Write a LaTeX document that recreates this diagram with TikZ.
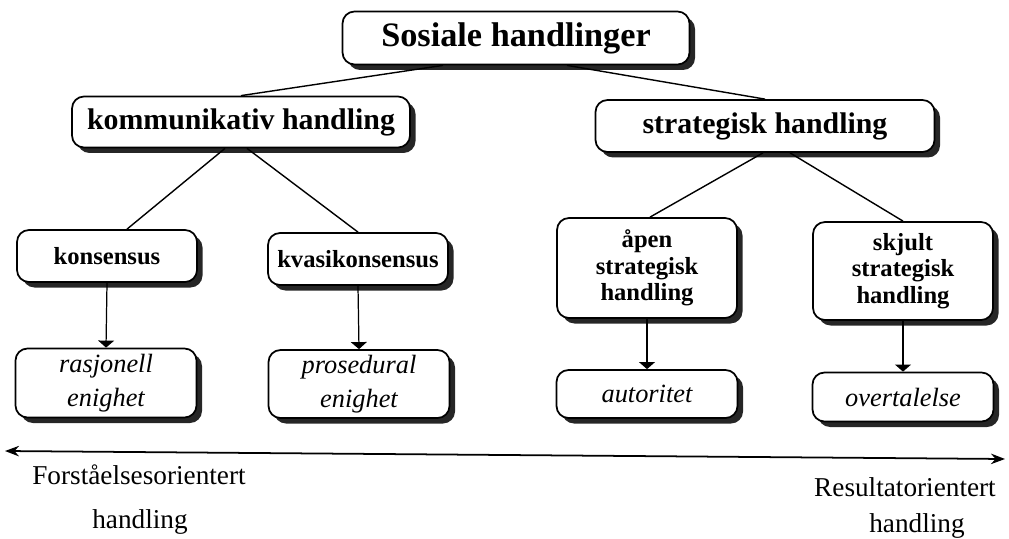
\documentclass[tikz,border=0pt]{standalone}
\usepackage{fontspec}
\setmainfont{Liberation Serif}
\usetikzlibrary{scopes,shadows,arrows.meta}

\begin{document}
\begin{tikzpicture}[
    box/.style={draw=black,fill=white,rounded corners=0.24cm,line width=1pt,align=center,inner sep=0pt,
        drop shadow={shadow xshift=0.11cm,shadow yshift=-0.11cm,fill=black!85,opacity=1}},
    hd/.style={box,font=\bfseries\fontsize{19.5}{22}\selectfont},
    sub/.style={box,font=\bfseries\fontsize{17}{20}\selectfont},
    leaf/.style={box,font=\bfseries\fontsize{14}{15}\selectfont,minimum width=3.6cm},
    res/.style={box,font=\itshape\fontsize{15}{19}\selectfont,minimum width=3.62cm},
    lbl/.style={font=\fontsize{15.5}{18}\selectfont},
    arr/.style={-{Triangle[width=9pt,length=4pt]},line width=0.7pt},
]
    \useasboundingbox (0,0) rectangle (20.18,10.76);
    \node[hd,minimum width=6.94cm,minimum height=1.06cm] (sos) at (10.32,10.00) {Sosiale handlinger};
    \node[sub,minimum width=6.76cm,minimum height=1.02cm] (komm) at (4.82,8.32) {kommunikativ handling};
    \node[sub,minimum width=6.78cm,minimum height=1.04cm] (strat) at (15.30,8.24) {strategisk handling};
    \node[leaf,minimum height=1.04cm] (kons) at (2.14,5.64) {konsensus};
    \node[leaf,minimum height=1.04cm] (kvasi) at (7.16,5.58) {kvasikonsensus};
    \node[leaf,minimum height=2.0cm] (apen) at (12.94,5.40) {åpen\\strategisk\\handling};
    \node[leaf,minimum height=1.96cm] (skjult) at (18.06,5.34) {skjult\\strategisk\\handling};
    \node[res,minimum height=1.38cm] (rasj) at (2.12,3.10) {rasjonell\\enighet};
    \node[res,minimum height=1.36cm] (pros) at (7.18,3.08) {prosedural\\enighet};
    \node[res,minimum height=0.96cm] (aut) at (12.94,2.88) {autoritet};
    \node[res,minimum height=0.98cm] (overt) at (18.06,2.82) {overtalelse};
    % tree lines
    {[line width=0.8pt]
        \draw ([xshift=-1.46cm]sos.south) -- (komm.north);
        \draw ([xshift=1.02cm]sos.south) -- (strat.north);
        \draw ([xshift=-0.32cm]komm.south) -- ([xshift=0.4cm]kons.north);
        \draw ([xshift=0.12cm]komm.south) -- (kvasi.north);
        \draw ([xshift=-0.04cm]strat.south) -- ([xshift=0.06cm]apen.north);
        \draw ([xshift=0.5cm]strat.south) -- (skjult.north);
    }
    {[arr]
        \draw (kons.south) -- (rasj.north);
        \draw (kvasi.south) -- (pros.north);
        \draw (apen.south) -- (aut.north);
        \draw (skjult.south) -- (overt.north);
    }
    % scale
    \coordinate (l) at (0.10,1.74);
    \coordinate (r) at (20.10,1.58);
    \draw[{Stealth[length=8pt,width=6pt]}-{Stealth[length=8pt,width=6pt]},line width=1pt] (l) -- (r);
    \node[lbl] (forst) at (2.78,1.26) {Forståelsesorientert};
    \node[lbl] (hl) at (2.80,0.32) {handling};
    \node[lbl] (result) at (18.10,1.02) {Resultatorientert};
    \node[lbl] (hr) at (18.34,0.24) {handling};
\end{tikzpicture}
\end{document}
